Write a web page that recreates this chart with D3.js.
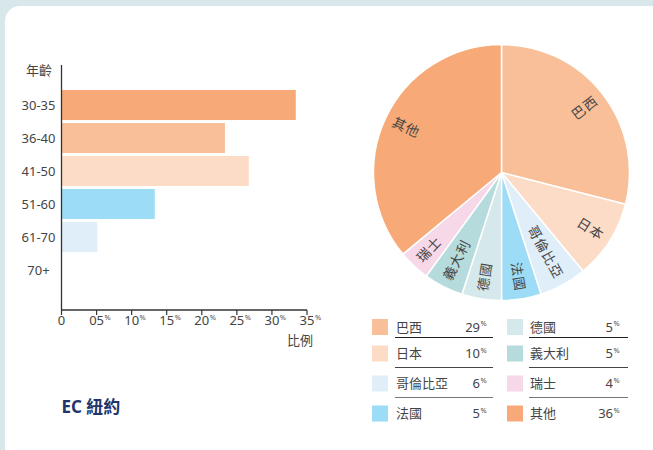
<!DOCTYPE html>
<html lang="zh-Hant">
  <head>
    <meta charset="utf-8">
    <title>EC 紐約</title>
    <style>
      body { margin: 0; background: #d8e8ea; }
      svg { display: block; font-family: "Noto Sans", "Noto Sans CJK TC", sans-serif; }
    </style>
    <script src="https://d3js.org/d3.v7.min.js"></script>
  </head>
  <body>
    <script>
    // age distribution (bar chart)
    const ages = ["30-35", "36-40", "41-50", "51-60", "61-70", "70+"]
    const agePct = [33.4, 23.3, 26.7, 13.3, 5.1, 0]
    const ageColors = ["#f7aa78", "#f9bf98", "#fcdcc6", "#9ddcf6", "#e0eef9", "#ffffff"]
    const xTicks = [0, 5, 10, 15, 20, 25, 30, 35]
    const xTickLabels = ["0", "05", "10", "15", "20", "25", "30", "35"]

    // nationality (pie + legend)
    const countries = ["巴西", "日本", "哥倫比亞", "法國", "德國", "義大利", "瑞士", "其他"]
    const countryPct = [29, 10, 6, 5, 5, 5, 4, 36]
    const countryColors = ["#f9bf98", "#fcdcc6", "#e0eef9", "#9ddcf6", "#d5e8eb", "#b5dbdc", "#f6d8e8", "#f7aa78"]

    const W = 653, H = 450
    const fs = 13

    const svg = d3.select("body")
      .append("svg")
      .attr("width", W)
      .attr("height", H)

    svg.append("rect")
      .attr("x", 5).attr("y", 6)
      .attr("width", 660).attr("height", 458)
      .attr("rx", 15)
      .attr("fill", "#fff")

    // ---------- bar chart ----------
    const x = d3.scaleLinear().domain([0, 35]).range([61.5, 307])
    const y = d3.scaleBand().domain(ages).range([88.5, 286.5]).paddingInner(0.09).paddingOuter(0.045)
    const axisY = 310

    const bars = svg.append("g")
    bars.selectAll("rect")
      .data(ages)
      .join("rect")
      .attr("x", x(0))
      .attr("y", d => y(d))
      .attr("width", (d, i) => x(agePct[i]) - x(0))
      .attr("height", y.bandwidth())
      .attr("fill", (d, i) => ageColors[i])

    bars.selectAll(".ylab")
      .data(ages)
      .join("text")
      .attr("class", "ylab")
      .attr("x", 38.5)
      .attr("y", d => y(d) + y.bandwidth() / 2)
      .attr("dy", "0.35em")
      .attr("text-anchor", "middle")
      .attr("font-size", fs)
      .attr("fill", "#444")
      .text(d => d)

    svg.append("text")
      .attr("x", 39).attr("y", 75)
      .attr("text-anchor", "middle")
      .attr("font-size", fs)
      .attr("fill", "#444")
      .text("年齡")

    // axes
    svg.append("line")
      .attr("x1", x(0)).attr("x2", x(0))
      .attr("y1", 65).attr("y2", axisY)
      .attr("stroke", "#333").attr("stroke-width", 1.3)
    svg.append("line")
      .attr("x1", x(0)).attr("x2", x(35))
      .attr("y1", axisY).attr("y2", axisY)
      .attr("stroke", "#333").attr("stroke-width", 1.3)

    const tick = svg.append("g").selectAll("g")
      .data(xTicks)
      .join("g")
      .attr("transform", d => `translate(${x(d)},0)`)

    tick.append("line")
      .attr("y1", axisY).attr("y2", axisY + 5)
      .attr("stroke", "#333").attr("stroke-width", 1.2)

    tick.each(function(d, i) {
      const g = d3.select(this)
      const t = g.append("text")
        .attr("y", 325)
        .attr("text-anchor", "middle")
        .attr("font-size", fs)
        .attr("fill", "#444")
        .text(xTickLabels[i])
      if (d > 0) {
        const w = t.node().getComputedTextLength()
        g.append("text")
          .attr("x", w / 2 + 0.5)
          .attr("y", 320)
          .attr("font-size", 7.5)
          .attr("fill", "#555")
          .text("%")
      }
    })

    svg.append("text")
      .attr("x", 300).attr("y", 345)
      .attr("text-anchor", "middle")
      .attr("font-size", fs)
      .attr("fill", "#444")
      .text("比例")

    svg.append("text")
      .attr("x", 61.5).attr("y", 413)
      .attr("font-size", 17)
      .attr("font-weight", "bold")
      .attr("fill", "#22356a")
      .text("EC 紐約")

    // ---------- pie ----------
    const cx = 501.5, cy = 172.5, R = 128
    const pie = d3.pie().sort(null).value(d => d)
    const arcs = pie(countryPct)
    const arc = d3.arc().innerRadius(0).outerRadius(R)

    const pg = svg.append("g").attr("transform", `translate(${cx},${cy})`)
    pg.selectAll("path")
      .data(arcs)
      .join("path")
      .attr("d", arc)
      .attr("fill", (d, i) => countryColors[i])
      .attr("stroke", "#fff")
      .attr("stroke-width", 1.5)

    const labR = 120
    pg.selectAll("text")
      .data(arcs)
      .join("text")
      .attr("transform", d => {
        const a = (d.startAngle + d.endAngle) / 2
        const deg = a * 180 / Math.PI
        const rot = a < Math.PI ? deg - 90 : deg + 90
        return `translate(${labR * Math.sin(a)},${-labR * Math.cos(a)}) rotate(${rot})`
      })
      .attr("text-anchor", d => (d.startAngle + d.endAngle) / 2 < Math.PI ? "end" : "start")
      .attr("dy", "0.35em")
      .attr("font-size", 13.5)
      .attr("letter-spacing", 1)
      .attr("fill", "#444")
      .text((d, i) => countries[i])

    // ---------- legend ----------
    const rowMid = [327, 353.5, 383.5, 413.5]
    const lineY = [337.5, 367.5, 397.5]
    const lineCol = ["#222", "#444", "#777"]
    const cols = [
      { sw: 372, txt: 396, val: 480, end: 493 },
      { sw: 507, txt: 530, val: 613, end: 628 }
    ]

    const lg = svg.append("g")
    countries.forEach((c, i) => {
      const col = cols[Math.floor(i / 4)], r = i % 4
      lg.append("rect")
        .attr("x", col.sw).attr("y", rowMid[r] - 8)
        .attr("width", 16).attr("height", 16)
        .attr("fill", countryColors[i])
      lg.append("text")
        .attr("x", col.txt).attr("y", rowMid[r])
        .attr("dy", "0.35em")
        .attr("font-size", fs)
        .attr("fill", "#444")
        .text(c)
      lg.append("text")
        .attr("x", col.val).attr("y", rowMid[r])
        .attr("dy", "0.35em")
        .attr("text-anchor", "end")
        .attr("font-size", fs)
        .attr("fill", "#444")
        .text(countryPct[i])
      lg.append("text")
        .attr("x", col.val + 0.5).attr("y", rowMid[r] - 1)
        .attr("font-size", 7.5)
        .attr("fill", "#555")
        .text("%")
      if (r < 3) {
        lg.append("line")
          .attr("x1", col.txt - 1).attr("x2", col.end)
          .attr("y1", lineY[r]).attr("y2", lineY[r])
          .attr("stroke", lineCol[r]).attr("stroke-width", 1.2)
      }
    })
    </script>
  </body>
</html>
